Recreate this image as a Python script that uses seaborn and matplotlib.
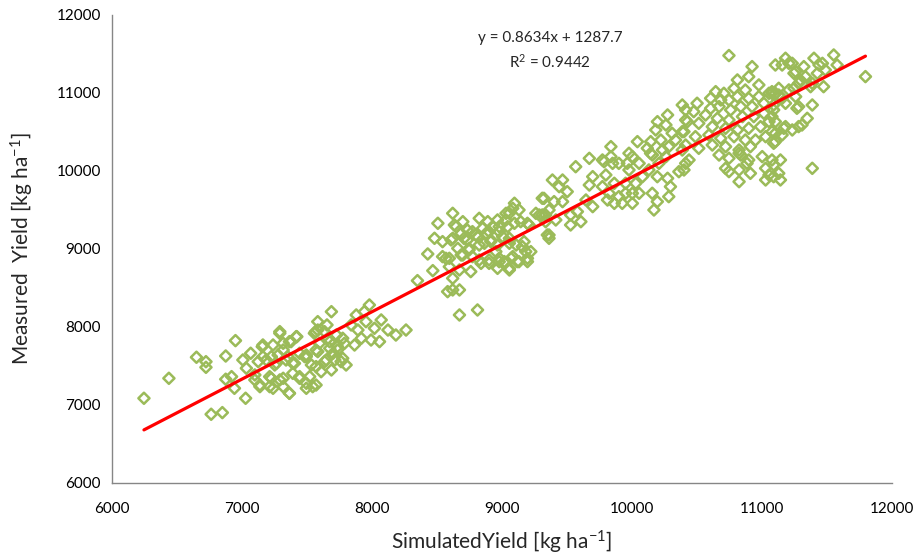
import numpy as np
import pandas as pd
import seaborn as sns
import matplotlib
matplotlib.use("Agg")
import matplotlib.pyplot as plt

sns.set_theme(style="white")
plt.rcParams['font.family'] = ['Lato', 'DejaVu Sans']
plt.rcParams['mathtext.default'] = 'regular'

# simulated yield (x) and measured yield (y), kg/ha
sim_yield = [
    6246, 6438, 6650, 6723, 6723, 6950, 6875, 6763, 6849, 6875,
    6920, 6942, 7028, 7007, 7067, 7034, 7099, 7156, 7161, 7138,
    7226, 7265, 7226, 7291, 7317, 7365, 7417, 7339, 7391, 7443,
    7495, 7443, 7365, 7495, 7544, 7570, 7557, 7291, 7317, 7213,
    7688, 7583, 7654, 7565, 7291, 7422, 7378, 7161, 7239, 7317,
    7278, 7125, 7187, 7252, 7352, 7404, 7482, 7534, 7583, 7596,
    7662, 7727, 7675, 7736, 7788, 7714, 7636, 7762, 7099, 7213,
    7317, 7391, 7443, 7521, 7570, 7495, 7365, 7239, 7138, 7609,
    7688,
    8429, 8569, 8468, 8350, 8582, 7980, 7941, 7879, 8071, 7954,
    8019, 8123, 8184, 8262, 7892, 7840, 7918, 7993, 8058, 7866,
    7775, 7735, 7674, 7583, 7635, 7775, 7801, 7700, 7648, 7570,
    7495,
    8621, 8673, 8621, 8673, 8812, 8481, 8507, 8543, 8621, 8634,
    8686, 8608, 8686, 8747, 8734, 8773, 8825, 8891, 8851, 8812,
    8865, 8914, 8901, 8979, 9031, 9057, 9096, 9131, 9096, 9005,
    9057, 8953, 8979, 9018, 9083, 9118, 9057, 8966, 8901, 8825,
    8760, 9196, 9222, 9157, 9196, 9261, 9336, 9310, 9401, 9349,
    9362,
    8699, 8647, 8734, 8966, 9031, 9083, 9287, 9209, 9144, 9044,
    8979, 8927, 8878, 8799, 8708, 8621, 8660, 8747, 8825, 8914,
    8966, 9057, 9109, 9170, 9183, 9070, 9131, 9196, 9057, 8979,
    8901, 8839, 8673, 8595, 8543, 8595, 8699, 8773, 9336, 9362,
    9323, 9388, 9466, 9440, 9502, 9466, 9362, 9310, 9414, 9528,
    9580, 9528, 9607, 9567, 9672, 9698, 9672, 9698, 9646, 9786,
    9799, 9851, 9899, 9838, 9864, 9825, 9899, 9925, 9864, 9812,
    9773, 9951, 9977, 10003, 9964, 10055, 10029, 10003, 10055, 10081,
    10130, 10195, 10156, 10195, 10169, 10283, 10296, 10274, 10361, 10413,
    10208, 10261, 10143, 9951, 10003,
    9838, 9773, 9977, 10042, 10118, 10157, 10144, 10222, 10183, 10196,
    10274, 10261, 10309, 10335, 10387, 10387, 10413, 10235, 10283, 10387,
    10426,
    10746, 10924, 11103, 10898, 10976, 10811, 10785, 10872, 10707, 10644,
    10605, 10683, 10746, 10811, 10898, 10976, 11054, 11103, 11015, 10924,
    10837, 10759, 10670, 10605, 10501, 10475, 10566, 10657, 10746, 10850,
    10937, 11015, 11090, 11054, 10989, 10898, 10811, 10720, 10618, 10514,
    10413, 10400, 10488, 10592, 10683, 10785, 10872, 10950, 11028, 11103,
    10413, 10514, 10618, 10720, 10824, 10911, 10670, 10746, 10837, 10885,
    11002, 11077, 11028, 10911, 10824, 10720, 10439, 10400,
    11181, 11155, 11233, 11322, 11400, 11465, 11552, 11578, 11246, 11334,
    11426, 11487, 11282, 11374, 11474, 11796, 11207, 11259, 11129, 11077,
    11269, 11387, 11348, 11282, 11233, 11181, 11155, 11090, 11387, 11142,
    11129, 11142, 11054, 11028, 10824, 10746, 10824, 10898,
    11207, 11439, 11259, 11295, 11387, 11246, 11129, 11077, 11155, 11181,
    11090, 11282, 11308, 11168, 11103, 11077, 11103, 11077, 11090, 11090,
]
meas_yield = [
    7086, 7342, 7612, 7555, 7483, 7825, 7628, 6881, 6902, 7330,
    7363, 7214, 7086, 7577, 7663, 7471, 7321, 7748, 7619, 7235,
    7620, 7535, 7342, 7919, 7791, 7812, 7876, 7577, 7535, 7663,
    7620, 7364, 7150, 7278, 7235, 7492, 7919, 7321, 7235, 7235,
    8196, 8068, 8026, 7940, 7940, 7876, 7812, 7769, 7769, 7705,
    7641, 7556, 7577, 7513, 7620, 7534, 7620, 7513, 7684, 7790,
    7855, 7897, 7726, 7705, 7790, 7577, 7556, 7556, 7385, 7363,
    7342, 7406, 7342, 7363, 7256, 7214, 7150, 7214, 7256, 7427,
    7449,
    8936, 8880, 8722, 8594, 8453, 8282, 8196, 8154, 8090, 8068,
    7983, 7961, 7897, 7961, 7961, 8026, 7855, 7833, 7812, 7769,
    7855, 7748, 7812, 7961, 7940, 7598, 7513, 7662, 7577, 7705,
    7641,
    8475, 8475, 8624, 8154, 8218, 9137, 9329, 9094, 9457, 9308,
    9201, 9116, 8923, 8987, 9116, 9222, 9393, 9351, 9265, 9158,
    9073, 9116, 9222, 9286, 9372, 9457, 9586, 9500, 9329, 9158,
    9073, 8966, 8881, 8838, 8902, 8838, 8752, 8752, 8816, 8859,
    8710, 8838, 8966, 9030, 9329, 9457, 9436, 9650, 9607, 9180,
    9137,
    9350, 9286, 9243, 9372, 9457, 9521, 9436, 9307, 9350, 9286,
    9222, 9286, 9201, 9179, 9136, 9136, 9008, 9008, 9051, 9094,
    9051, 9136, 9051, 9094, 8966, 8880, 8837, 8880, 8731, 8837,
    8859, 8816, 8731, 8880, 8902, 8773, 8923, 8902, 9350, 9179,
    9649, 9884, 9884, 9799, 9735, 9607, 9500, 9436, 9372, 9436,
    9479, 9308, 9350, 10055, 10162, 9927, 9820, 9543, 9628, 10119,
    9949, 10098, 10098, 10184, 9842, 9714, 9671, 9585, 9585, 9628,
    9799, 9842, 10013, 10184, 10098, 10098, 9842, 9714, 9714, 9927,
    10013, 9927, 9714, 9607, 9500, 9671, 9799, 9906, 9991, 10098,
    10098, 10184, 10226, 9714, 9585,
    10312, 10141, 10227, 10376, 10291, 10205, 10376, 10397, 10526, 10632,
    10718, 10590, 10483, 10397, 10504, 10846, 10782, 10269, 10312, 10269,
    10632,
    11480, 11338, 11359, 11209, 11103, 11167, 11060, 11038, 10996, 11017,
    10932, 10910, 10910, 10953, 10932, 10953, 10996, 10996, 10868, 10825,
    10825, 10782, 10825, 10803, 10868, 10761, 10718, 10675, 10654, 10697,
    10697, 10739, 10782, 10632, 10568, 10547, 10526, 10547, 10568, 10611,
    10654, 10504, 10440, 10462, 10419, 10440, 10397, 10397, 10440, 10483,
    10333, 10291, 10333, 10312, 10269, 10312, 10205, 10163, 10205, 10098,
    10184, 10141, 10034, 9970, 10013, 10034, 10141, 10013,
    11445, 11359, 11380, 11338, 11445, 11380, 11487, 11359, 11252, 11210,
    11252, 11295, 11124, 11081, 11081, 11210, 11039, 10953, 10974, 11017,
    10804, 10846, 10675, 10569, 10526, 10569, 10462, 10355, 10034, 10141,
    9970, 9885, 9949, 9885, 9863, 9992, 10227, 10141,
    11380, 11359, 11274, 11167, 11124, 11060, 11060, 10996, 10932, 10868,
    10846, 10825, 10590, 10547, 10632, 10697, 10376, 10504, 10077, 9927,
]

# trendline shown on the chart
slope = 0.8634
intercept = 1287.7
r_squared = 0.9442

df = pd.DataFrame({'sim': sim_yield, 'meas': meas_yield})

fig = plt.figure(figsize=(9.17, 5.59), dpi=100)
ax = fig.add_axes([0.1221, 0.136, 0.8506, 0.8372])

sns.scatterplot(data=df, x='sim', y='meas', ax=ax,
                marker='D', s=32, facecolors='none',
                edgecolor='#9BBB59', linewidth=1.8, legend=False,
                zorder=2)

line_x = np.array([df['sim'].min(), df['sim'].max()])
ax.plot(line_x, slope * line_x + intercept, color='#FF0000', lw=2.3, zorder=3)

ax.set_xlim(6000, 12000)
ax.set_ylim(6000, 12000)
ax.set_xticks(range(6000, 12001, 1000))
ax.set_yticks(range(6000, 12001, 1000))
ax.tick_params(length=0, labelsize=11, colors='black')
ax.tick_params(axis='x', pad=14)
ax.tick_params(axis='y', pad=8)

for side in ['top', 'right']:
    ax.spines[side].set_visible(False)
for side in ['left', 'bottom']:
    ax.spines[side].set_color('#868686')
    ax.spines[side].set_linewidth(1.0)

ax.set_xlabel('SimulatedYield [kg ha$^{-1}$]', fontsize=15, labelpad=9)
ax.set_ylabel('Measured  Yield [kg ha$^{-1}$]', fontsize=15, labelpad=15)

ax.text(0.5615, 0.923,
        f'y = {slope}x + {intercept}\nR$^{{2}}$ = {r_squared}',
        transform=ax.transAxes, ha='center', va='center',
        multialignment='center', fontsize=11, linespacing=1.5)

fig.savefig('out.png', dpi=100)
